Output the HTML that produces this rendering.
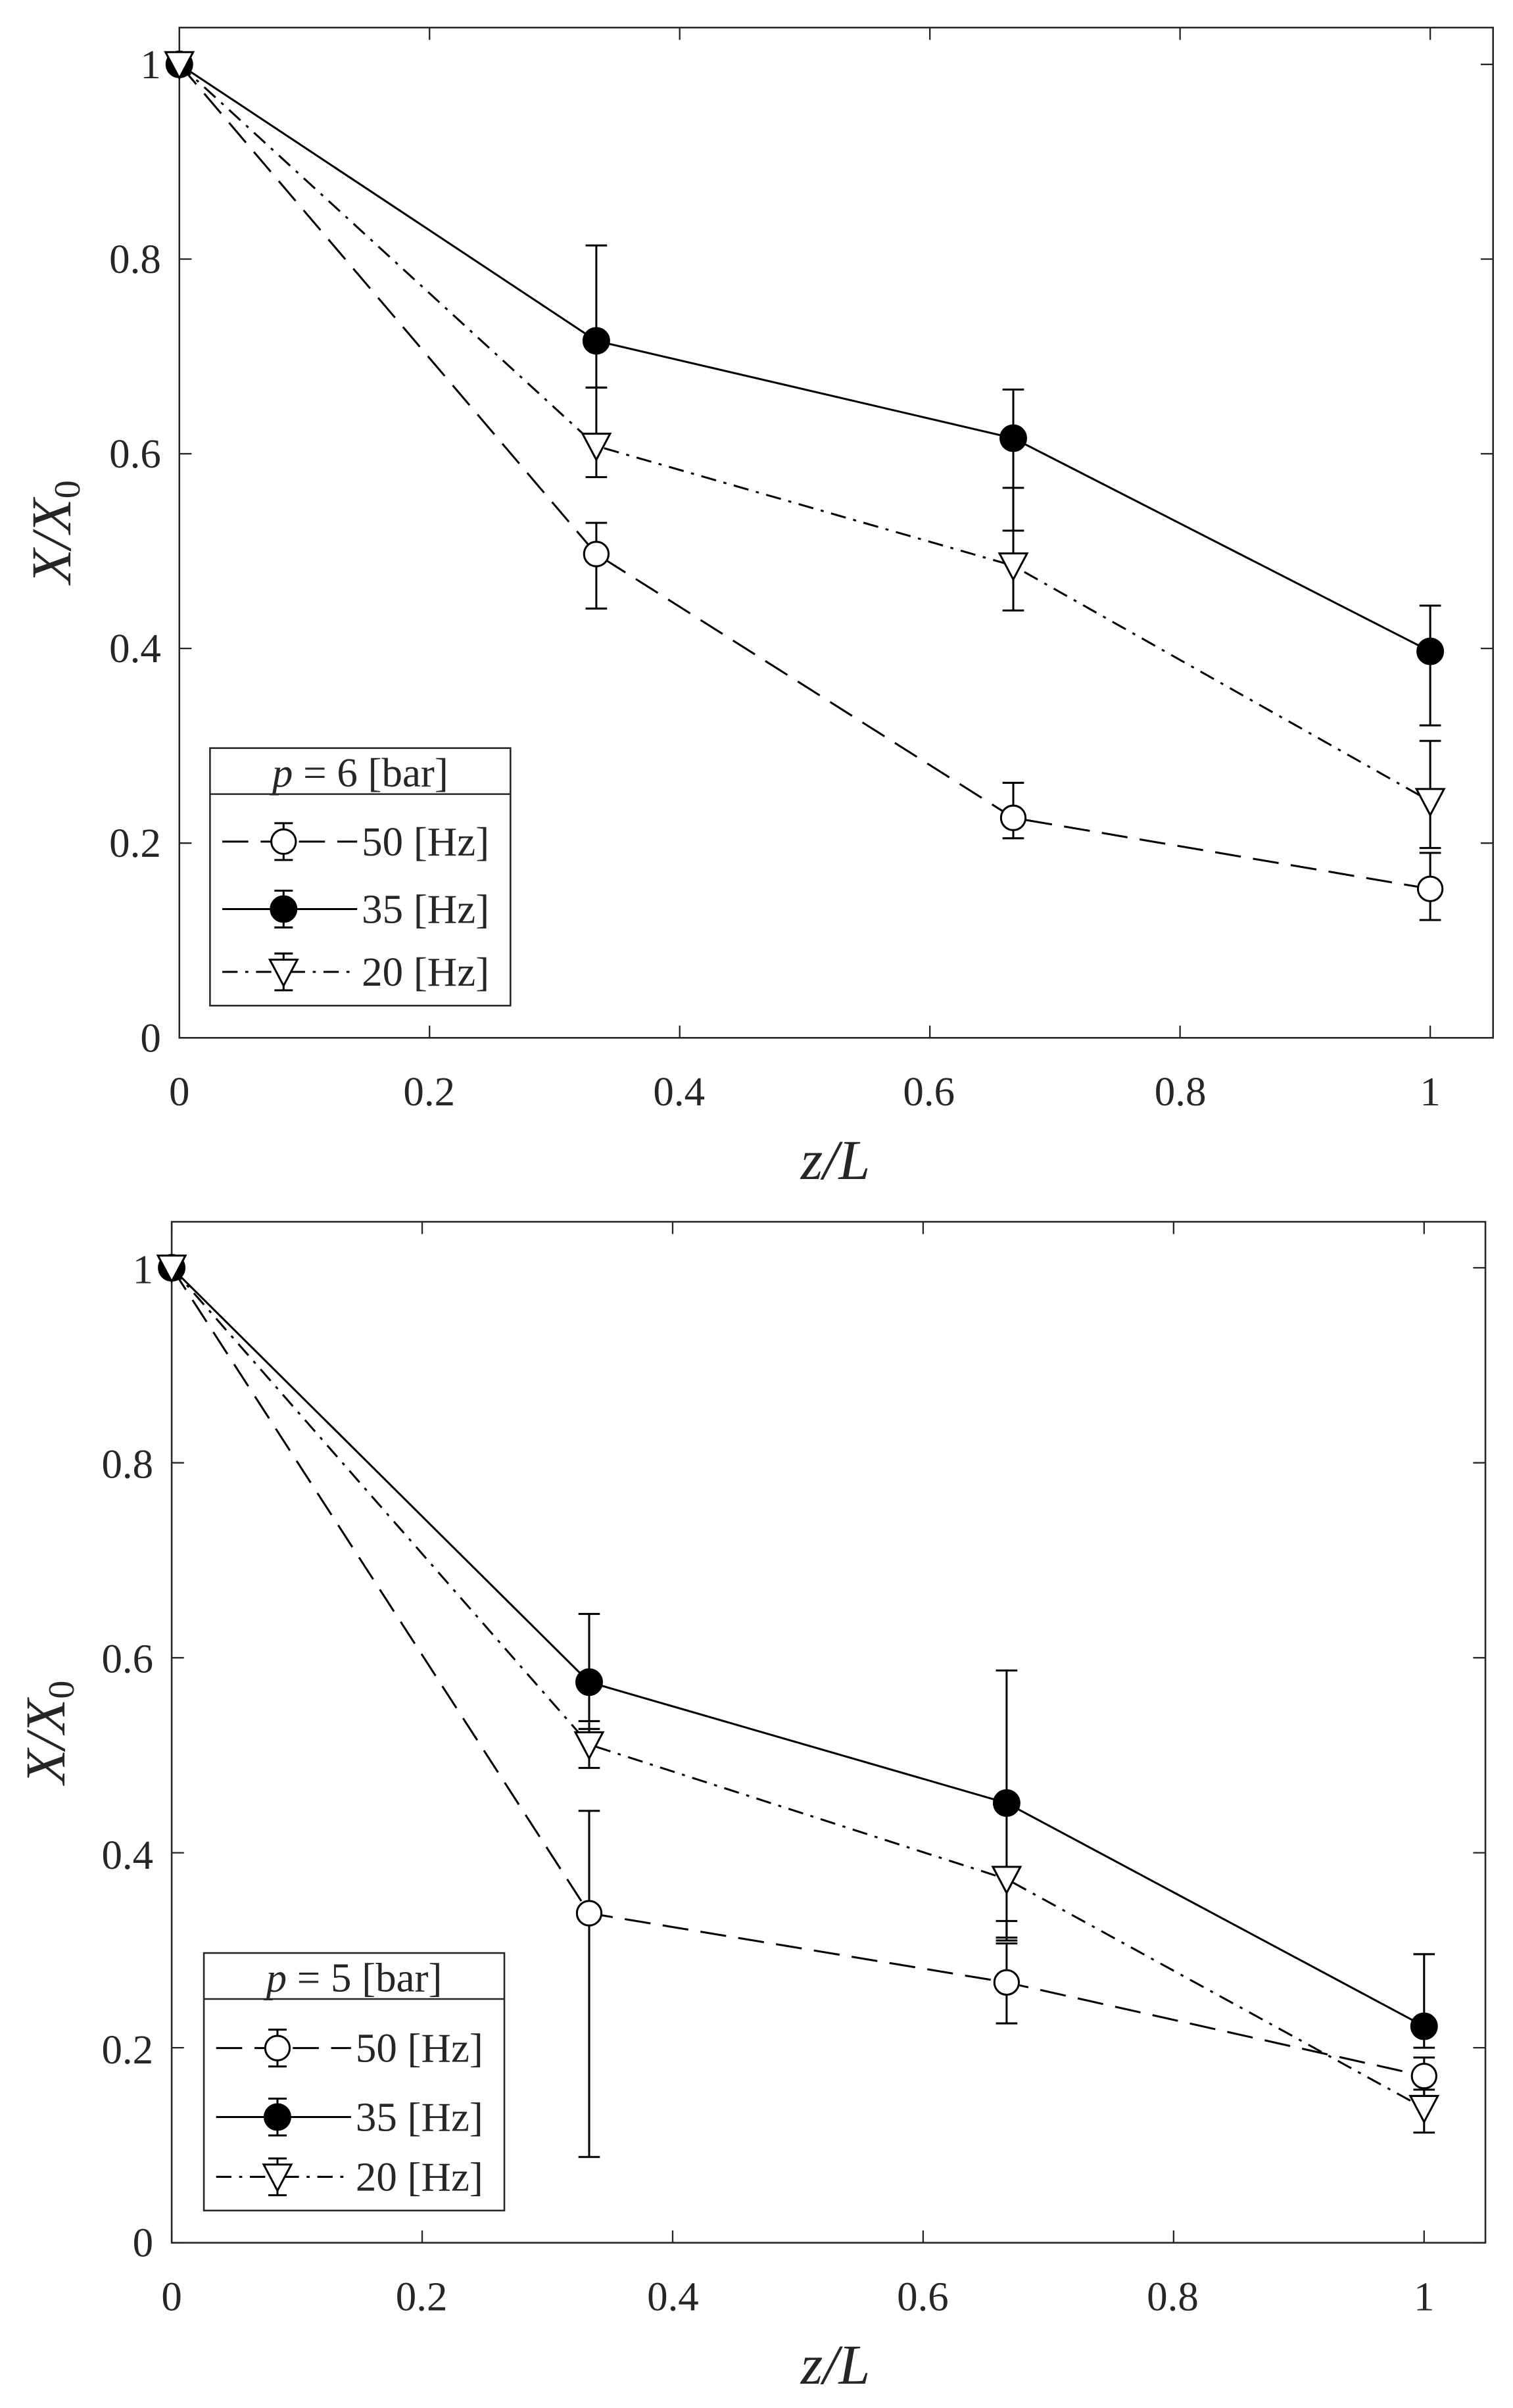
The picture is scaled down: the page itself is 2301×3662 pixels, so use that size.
<!DOCTYPE html>
<html><head><meta charset="utf-8">
<style>
html,body{margin:0;padding:0;background:#fff;}
svg{display:block;}
text{font-family:"Liberation Serif",serif;fill:#262626;}
</style></head>
<body>
<svg id="s" width="2301" height="3662" viewBox="0 0 987 1570.8" preserveAspectRatio="none" xmlns="http://www.w3.org/2000/svg">
<rect x="0" y="0" width="987" height="1571" fill="#fff"/>
<g id="g"></g>
<g font-size="27" text-anchor="middle">
<text x="117" y="721">0</text><text x="280" y="721">0.2</text><text x="443" y="721">0.4</text><text x="606" y="721">0.6</text><text x="770" y="721">0.8</text><text x="933" y="721">1</text>
<text x="112" y="1507">0</text><text x="275" y="1507">0.2</text><text x="439" y="1507">0.4</text><text x="602" y="1507">0.6</text><text x="765" y="1507">0.8</text><text x="929" y="1507">1</text>
</g>
<g font-size="27" text-anchor="end">
<text x="105" y="686">0</text><text x="105" y="559">0.2</text><text x="105" y="432">0.4</text><text x="105" y="305">0.6</text><text x="105" y="178">0.8</text><text x="105" y="51">1</text>
<text x="100" y="1472">0</text><text x="100" y="1346">0.2</text><text x="100" y="1219">0.4</text><text x="100" y="1091">0.6</text><text x="100" y="964">0.8</text><text x="100" y="837">1</text>
</g>
<text x="545" y="769" font-size="37" text-anchor="middle" font-style="italic">z/L</text>
<text x="545" y="1555" font-size="37" text-anchor="middle" font-style="italic">z/L</text>
<text transform="translate(46,347) rotate(-90)" font-size="37" text-anchor="middle"><tspan font-style="italic">X/X</tspan><tspan font-size="24" dy="6">0</tspan></text>
<text transform="translate(42,1130) rotate(-90)" font-size="37" text-anchor="middle"><tspan font-style="italic">X/X</tspan><tspan font-size="24" dy="6">0</tspan></text>
<g font-size="27">
<text x="235" y="513" text-anchor="middle"><tspan font-style="italic">p</tspan> = 6 [bar]</text>
<text x="236" y="558">50 [Hz]</text><text x="236" y="602">35 [Hz]</text><text x="236" y="643">20 [Hz]</text>
<text x="231" y="1299" text-anchor="middle"><tspan font-style="italic">p</tspan> = 5 [bar]</text>
<text x="232" y="1345">50 [Hz]</text><text x="232" y="1390">35 [Hz]</text><text x="232" y="1429">20 [Hz]</text>
</g>
</svg>
<script>
var NS="http://www.w3.org/2000/svg",G=document.getElementById("g");
function el(t,a){var e=document.createElementNS(NS,t);for(var k in a)e.setAttribute(k,a[k]);G.appendChild(e);return e;}
var C="#000";
function plot(P){
 var X=function(x){return P.l+P.ux*x},Y=function(y){return P.b-P.uy*y};
 el("rect",{x:P.l,y:P.t,width:P.r-P.l,height:P.b-P.t,fill:"none",stroke:"#262626","stroke-width":1.1});
 for(var i=0;i<=5;i++){var x=X(i*0.2),y=Y(i*0.2);
  el("line",{x1:x,y1:P.b,x2:x,y2:P.b-8,stroke:"#262626"});el("line",{x1:x,y1:P.t,x2:x,y2:P.t+8,stroke:"#262626"});
  el("line",{x1:P.l,y1:y,x2:P.l+8,y2:y,stroke:"#262626"});el("line",{x1:P.r,y1:y,x2:P.r-8,y2:y,stroke:"#262626"});}
 var dash={d:"17 8",s:"",dd:"10 5 2 5"};
 P.series.forEach(function(S){
  var pts=S.p.map(function(p){return X(p[0])+","+Y(p[1])}).join(" ");
  var a={points:pts,fill:"none",stroke:C,"stroke-width":1.3};if(dash[S.ls])a["stroke-dasharray"]=dash[S.ls];
  el("polyline",a);
  S.p.forEach(function(p){if(p.length>2){var x=X(p[0]);
   el("line",{x1:x,y1:Y(p[2]),x2:x,y2:Y(p[3]),stroke:C,"stroke-width":1.3});
   [p[2],p[3]].forEach(function(v){el("line",{x1:x-7,y1:Y(v),x2:x+7,y2:Y(v),stroke:C,"stroke-width":1.3});});}});
  S.p.forEach(function(p){mark(S.m,X(p[0]),Y(p[1]));});
 });
 var L=P.leg;el("rect",{x:L.x1,y:L.y1,width:L.x2-L.x1,height:L.y2-L.y1,fill:"#fff",stroke:"#262626","stroke-width":1.1});
 el("line",{x1:L.x1,y1:L.sep,x2:L.x2,y2:L.sep,stroke:"#262626","stroke-width":1.1});
 P.series.forEach(function(S,i){var y=L.rows[i],a={x1:L.x1+8,y1:y,x2:L.x1+96,y2:y,stroke:C,"stroke-width":1.3};
  if(dash[S.ls])a["stroke-dasharray"]=dash[S.ls];el("line",a);
  var cx=L.x1+48;el("line",{x1:cx,y1:y-12,x2:cx,y2:y+12,stroke:C,"stroke-width":1.3});
  el("line",{x1:cx-6,y1:y-12,x2:cx+6,y2:y-12,stroke:C,"stroke-width":1.3});el("line",{x1:cx-6,y1:y+12,x2:cx+6,y2:y+12,stroke:C,"stroke-width":1.3});
  mark(S.m,cx,y);});
}
function mark(m,x,y){
 if(m=="o")el("circle",{cx:x,cy:y,r:8,fill:"#fff",stroke:C,"stroke-width":1.3});
 else if(m=="f")el("circle",{cx:x,cy:y,r:8.5,fill:"#000",stroke:C,"stroke-width":1});
 else el("polygon",{points:(x-9)+","+(y-8)+" "+(x+9)+","+(y-8)+" "+x+","+(y+9),fill:"#fff",stroke:C,"stroke-width":1.3});
}
var t=1/3,u=2/3;
plot({l:117,r:974,t:18,b:677,ux:816,uy:635,
 series:[
  {m:"o",ls:"d",p:[[0,1],[t,0.497,0.441,0.529],[u,0.226,0.205,0.262],[1,0.153,0.121,0.19]]},
  {m:"f",ls:"s",p:[[0,1],[t,0.716,0.668,0.814],[u,0.616,0.521,0.666],[1,0.397,0.321,0.444]]},
  {m:"v",ls:"dd",p:[[0,1],[t,0.608,0.576,0.668],[u,0.485,0.439,0.565],[1,0.243,0.195,0.305]]}],
 leg:{x1:137,x2:333,y1:488,y2:656,sep:518,rows:[549,593,634]}});
plot({l:112,r:969,t:797,b:1463,ux:817,uy:636,
 series:[
  {m:"o",ls:"d",p:[[0,1],[t,0.338,0.088,0.443],[u,0.267,0.225,0.307],[1,0.171,0.15,0.19]]},
  {m:"f",ls:"s",p:[[0,1],[t,0.575,0.527,0.645],[u,0.451,0.313,0.587],[1,0.222,0.2,0.296]]},
  {m:"v",ls:"dd",p:[[0,1],[t,0.511,0.487,0.535],[u,0.373,0.31,0.33],[1,0.138,0.113,0.157]]}],
 leg:{x1:133,x2:329,y1:1274,y2:1442,sep:1304,rows:[1336,1381,1420]}});
</script>
</body></html>
